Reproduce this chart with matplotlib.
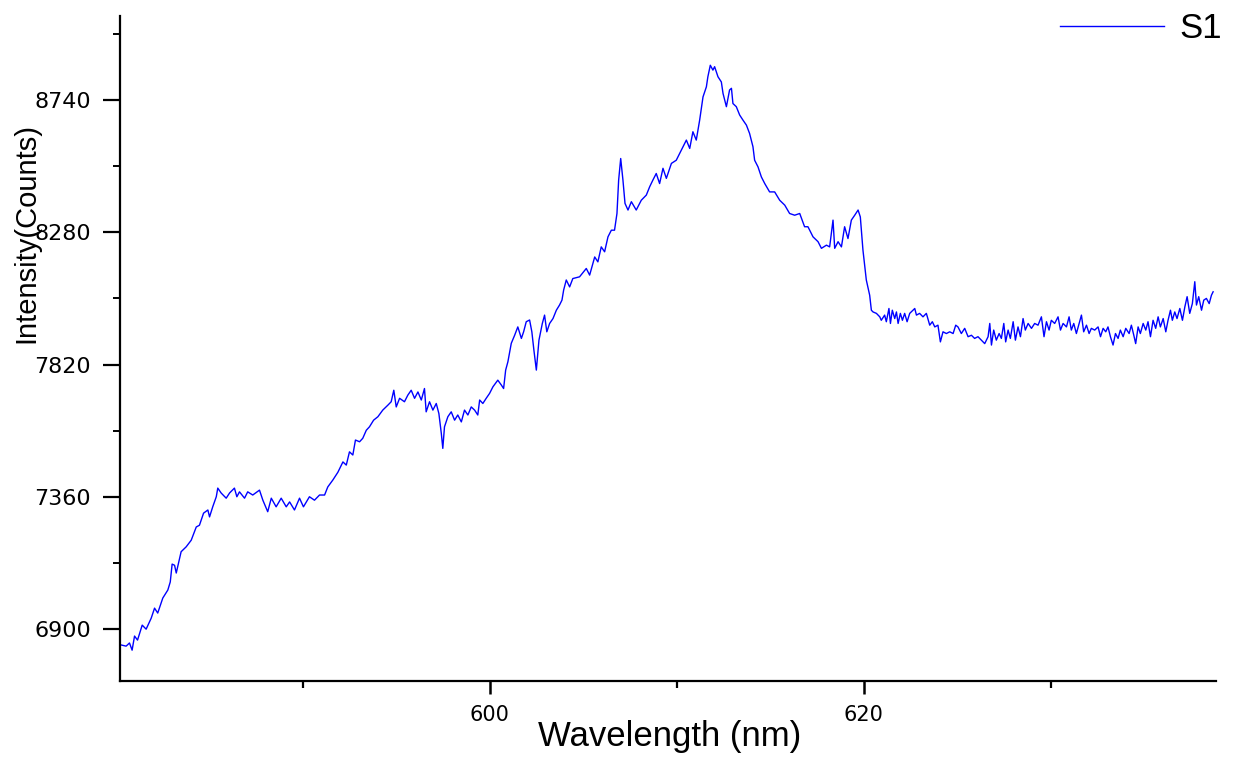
import matplotlib
matplotlib.use("Agg")
import matplotlib.pyplot as plt
from matplotlib.ticker import MultipleLocator

# spectrum (wavelength in nm, intensity in counts)
wavelength = [
    580.31, 580.57, 580.75, 580.89, 581.02, 581.18, 581.43, 581.64, 581.91, 582.09,
    582.26, 582.53, 582.80, 582.93, 583.03, 583.16, 583.25, 583.51, 583.78, 584.05,
    584.32, 584.49, 584.71, 584.94, 585.03, 585.20, 585.39, 585.47, 585.65, 585.92,
    586.10, 586.36, 586.49, 586.63, 586.90, 587.07, 587.34, 587.70, 587.88, 588.14,
    588.33, 588.59, 588.86, 589.13, 589.31, 589.57, 589.84, 590.05, 590.37, 590.64,
    590.91, 591.18, 591.35, 591.62, 591.89, 592.16, 592.34, 592.51, 592.69, 592.83,
    593.05, 593.22, 593.41, 593.58, 593.80, 594.03, 594.29, 594.56, 594.74, 594.88,
    595.01, 595.19, 595.45, 595.63, 595.81, 595.99, 596.17, 596.35, 596.52, 596.61,
    596.79, 596.97, 597.15, 597.29, 597.42, 597.50, 597.59, 597.77, 597.95, 598.13,
    598.30, 598.49, 598.66, 598.84, 599.02, 599.20, 599.37, 599.47, 599.64, 599.82,
    600.00, 600.18, 600.44, 600.63, 600.75, 600.86, 600.98, 601.16, 601.34, 601.51,
    601.70, 601.82, 601.96, 602.14, 602.26, 602.37, 602.50, 602.64, 602.82, 602.94,
    603.06, 603.21, 603.39, 603.57, 603.74, 603.87, 603.96, 604.10, 604.28, 604.45,
    604.81, 605.17, 605.35, 605.62, 605.79, 605.97, 606.15, 606.33, 606.51, 606.68,
    606.81, 606.90, 607.01, 607.13, 607.24, 607.40, 607.58, 607.84, 608.11, 608.38,
    608.56, 608.73, 608.91, 609.09, 609.27, 609.45, 609.72, 609.98, 610.25, 610.52,
    610.70, 610.87, 611.05, 611.23, 611.41, 611.59, 611.67, 611.80, 611.94, 612.03,
    612.21, 612.39, 612.48, 612.66, 612.83, 612.93, 613.01, 613.19, 613.37, 613.55,
    613.73, 613.90, 614.08, 614.17, 614.35, 614.53, 614.71, 614.97, 615.24, 615.51,
    615.78, 616.04, 616.31, 616.58, 616.84, 617.02, 617.29, 617.56, 617.74, 618.01,
    618.18, 618.36, 618.45, 618.63, 618.81, 618.98, 619.16, 619.34, 619.52, 619.70,
    619.82, 619.96, 620.14, 620.32, 620.41,
    620.50, 620.68, 620.86, 620.94, 621.12, 621.21, 621.35, 621.43, 621.53, 621.66,
    621.75, 621.84, 621.96, 622.07, 622.19, 622.32, 622.46, 622.73, 622.82, 622.99,
    623.17, 623.35, 623.53, 623.67, 623.80, 623.97, 624.10, 624.24, 624.42, 624.60,
    624.78, 624.92, 625.04, 625.22, 625.40, 625.58, 625.76, 625.93, 626.11, 626.29,
    626.47, 626.65, 626.74, 626.83, 626.95, 627.09, 627.24, 627.36, 627.49, 627.59,
    627.72, 627.84, 627.99, 628.11, 628.25, 628.38, 628.52, 628.64, 628.79, 628.97,
    629.14, 629.32, 629.50, 629.64, 629.77, 629.91, 630.03, 630.21, 630.39, 630.52,
    630.66, 630.84, 630.98, 631.10, 631.23, 631.37, 631.52, 631.64, 631.76, 631.91,
    632.05, 632.17, 632.35, 632.53, 632.66, 632.80, 632.94, 633.06, 633.19, 633.33,
    633.46, 633.60, 633.72, 633.87, 634.01, 634.19, 634.31, 634.44, 634.54, 634.67,
    634.79, 634.94, 635.08, 635.20, 635.33, 635.47, 635.61, 635.74, 635.86, 636.01,
    636.15, 636.27, 636.40, 636.50, 636.63, 636.75, 636.90, 637.04, 637.17, 637.29,
    637.43, 637.57, 637.70, 637.79, 637.91, 638.06, 638.18, 638.32, 638.47, 638.59,
    638.68,
]
intensity = [
    6846, 6842, 6853, 6828, 6877, 6863, 6915, 6901, 6939, 6974,
    6957, 7009, 7037, 7065, 7127, 7123, 7096, 7170, 7187, 7210,
    7256, 7262, 7304, 7315, 7291, 7326, 7361, 7391, 7374, 7356,
    7374, 7391, 7361, 7378, 7356, 7378, 7367, 7384, 7349, 7309,
    7356, 7326, 7356, 7326, 7343, 7315, 7356, 7326, 7361, 7349,
    7367, 7367, 7395, 7419, 7446, 7482, 7471, 7517, 7506, 7558,
    7552, 7564, 7592, 7604, 7627, 7639, 7662, 7679, 7691, 7731,
    7673, 7703, 7691, 7714, 7731, 7703, 7725, 7697, 7737, 7656,
    7691, 7662, 7685, 7650, 7581, 7529, 7604, 7639, 7656, 7627,
    7645, 7621, 7662, 7645, 7673, 7662, 7645, 7697, 7685, 7703,
    7720, 7743, 7766, 7749, 7737, 7801, 7830, 7894, 7922, 7951,
    7911, 7934, 7969, 7975, 7934, 7870, 7801, 7905, 7963, 7992,
    7934, 7963, 7980, 8009, 8027, 8044, 8079, 8114, 8090, 8119,
    8125, 8154, 8131, 8194, 8177, 8229, 8212, 8264, 8287, 8287,
    8345, 8461, 8536, 8461, 8380, 8357, 8386, 8357, 8391, 8409,
    8438, 8461, 8484, 8449, 8502, 8467, 8519, 8530, 8565, 8600,
    8571, 8629, 8600, 8669, 8750, 8785, 8820, 8860, 8843, 8855,
    8820, 8802, 8762, 8716, 8774, 8780, 8727, 8716, 8687, 8669,
    8652, 8623, 8577, 8530, 8507, 8472, 8449, 8420, 8420, 8391,
    8374, 8345, 8339, 8345, 8299, 8299, 8264, 8247, 8224, 8235,
    8229, 8322, 8224, 8247, 8229, 8299, 8258, 8322, 8339, 8357,
    8333, 8218, 8114, 8061, 8009,
    8003, 7998, 7986, 7974, 7992, 7969, 8015, 7963, 8009, 7980,
    8003, 7963, 7998, 7974, 7998, 7969, 7998, 8015, 7992, 7998,
    7986, 7998, 7957, 7969, 7951, 7957, 7899, 7934, 7928, 7934,
    7928, 7957, 7951, 7928, 7946, 7917, 7922, 7911, 7917, 7905,
    7893, 7917, 7963, 7888, 7940, 7905, 7928, 7911, 7963, 7899,
    7940, 7911, 7969, 7905, 7951, 7917, 7980, 7940, 7963, 7946,
    7963, 7957, 7986, 7917, 7969, 7940, 7974, 7963, 7986, 7940,
    7963, 7951, 7986, 7940, 7963, 7928, 7963, 7992, 7934, 7957,
    7928, 7946, 7940, 7951, 7917, 7946, 7934, 7951, 7917, 7888,
    7928, 7911, 7940, 7917, 7946, 7928, 7957, 7922, 7893, 7951,
    7928, 7963, 7940, 7969, 7917, 7974, 7946, 7986, 7951, 7980,
    7934, 7974, 8009, 7974, 8003, 7980, 8015, 7974, 8021, 8056,
    7998, 8032, 8108, 8027, 8056, 8009, 8044, 8050, 8032, 8061,
    8073,
]

fig = plt.figure(figsize=(12.34, 7.6), dpi=100)
ax = fig.add_axes([0.0972, 0.1036, 0.8880, 0.8757])

ax.plot(wavelength, intensity, color="#0000ff", linewidth=1.0, label="S1")

ax.set_xlim(580.24, 638.82)
ax.set_ylim(6720, 9032)

ax.xaxis.set_major_locator(MultipleLocator(20))
ax.xaxis.set_minor_locator(MultipleLocator(10))
ax.yaxis.set_major_locator(MultipleLocator(460))
ax.yaxis.set_minor_locator(MultipleLocator(230))

for side in ["top", "right"]:
    ax.spines[side].set_visible(False)
for side in ["left", "bottom"]:
    ax.spines[side].set_linewidth(1.6)

ax.tick_params(axis="y", which="major", length=12, width=1.6, pad=9, labelsize=16)
ax.tick_params(axis="y", which="minor", length=5, width=1.4)
ax.tick_params(axis="x", which="major", length=9, width=1.8, pad=8, labelsize=15)
ax.tick_params(axis="x", which="minor", length=5, width=1.6)

ax.set_xlabel("Wavelength (nm)", fontsize=25, family="Liberation Sans")
ax.xaxis.set_label_coords(0.502, -0.058)
ax.set_ylabel("Intensity(Counts)", fontsize=21, family="Liberation Sans")
ax.yaxis.set_label_coords(-0.073, 0.673)

leg = ax.legend(loc="upper right", bbox_to_anchor=(1222 / 1234, 1 - 12 / 760),
                bbox_transform=fig.transFigure, frameon=False, borderpad=0,
                borderaxespad=0, handlelength=3.0, handletextpad=0.45,
                prop={"family": "Liberation Sans", "size": 25})
for line in leg.get_lines():
    line.set_linewidth(1.0)

fig.savefig("out.png", dpi=100)
